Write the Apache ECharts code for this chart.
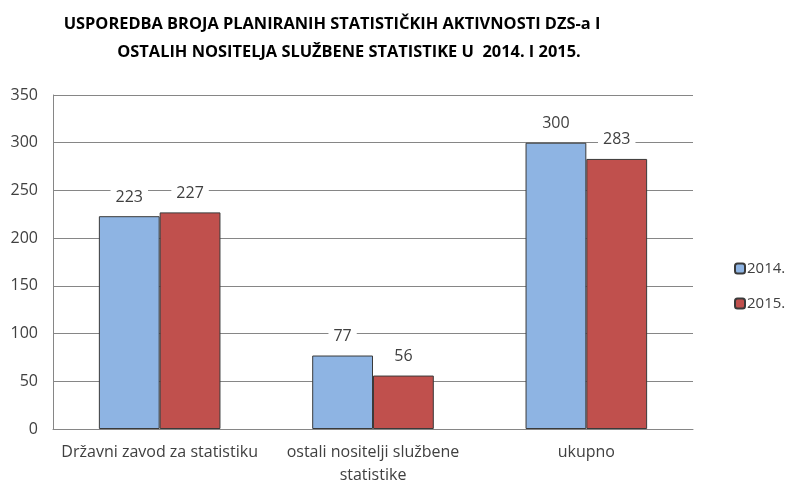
<!DOCTYPE html>
<html>
<head>
<meta charset="utf-8">
<script src="https://cdn.jsdelivr.net/npm/echarts@6/dist/echarts.min.js"></script>
<style>
	html, body { margin: 0; padding: 0; background: #fff; overflow: hidden; }
	#chart { width: 788px; height: 482px; }
</style>
</head>
<body>
<div id="chart"></div>
<script>
	var categories = ['Državni zavod za statistiku', 'ostali nositelji službene\nstatistike', 'ukupno'];
	var values2014 = [223, 77, 300];
	var values2015 = [227, 56, 283];
	var seriesNames = ['2014.', '2015.'];
	var titleLines = [
		'USPOREDBA BROJA PLANIRANIH STATISTIČKIH AKTIVNOSTI DZS-a I',
		'OSTALIH NOSITELJA SLUŽBENE STATISTIKE U  2014. I 2015.'
	];

	var font = '"Open Sans", sans-serif';
	var chart = echarts.init(document.getElementById('chart'));

	var labelStyle = {
		show: true,
		position: 'top',
		distance: 10,
		color: '#404040',
		fontFamily: font,
		fontSize: 16,
		backgroundColor: '#fff',
		padding: [1, 5]
	};

	var titleText = {
		fontFamily: font,
		fontWeight: 'bold',
		fontSize: 16.4,
		color: '#000'
	};

	chart.setOption({
		animation: false,
		title: [
			{ text: titleLines[0], left: 327, top: 11, textAlign: 'center', textStyle: titleText },
			{ text: titleLines[1], left: 344, top: 39, textAlign: 'center', textStyle: titleText }
		],
		legend: {
			orient: 'vertical',
			left: 729,
			top: 256,
			itemWidth: 10,
			itemHeight: 10,
			itemGap: 20,
			data: seriesNames,
			textStyle: { fontFamily: font, fontSize: 15, color: '#404040', padding: [0, 0, 0, -3] }
		},
		grid: {
			left: 53,
			top: 95,
			width: 640,
			height: 334,
			containLabel: false,
			outerBoundsMode: 'none'
		},
		xAxis: {
			type: 'category',
			data: categories,
			axisTick: { show: false },
			axisLine: { lineStyle: { color: '#868686' } },
			axisLabel: {
				interval: 0,
				fontFamily: font,
				fontSize: 16,
				color: '#404040',
				margin: 12,
				lineHeight: 23
			}
		},
		yAxis: {
			type: 'value',
			min: 0,
			max: 350,
			interval: 50,
			axisLine: { show: true, lineStyle: { color: '#868686' } },
			axisTick: { show: false },
			splitLine: { lineStyle: { color: '#868686' } },
			axisLabel: {
				fontFamily: font,
				fontSize: 16,
				color: '#404040',
				margin: 15
			}
		},
		series: [
			{
				name: seriesNames[0],
				type: 'bar',
				data: values2014,
				barGap: '0%',
				barCategoryGap: '43%',
				itemStyle: { color: '#8eb4e3', borderColor: '#3a3a3a', borderWidth: 1 },
				label: labelStyle
			},
			{
				name: seriesNames[1],
				type: 'bar',
				data: values2015,
				barGap: '0%',
				barCategoryGap: '43%',
				itemStyle: { color: '#c0504d', borderColor: '#3a3a3a', borderWidth: 1 },
				label: labelStyle
			}
		]
	});
</script>
</body>
</html>
